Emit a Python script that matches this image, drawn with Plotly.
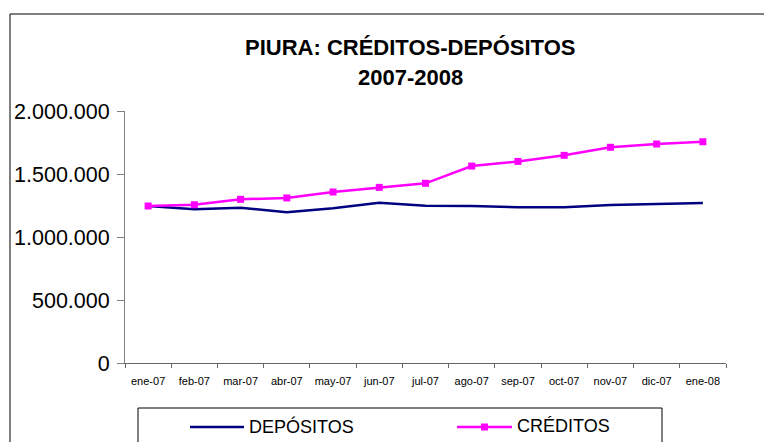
import plotly.graph_objects as go

meses = ["ene-07", "feb-07", "mar-07", "abr-07", "may-07", "jun-07", "jul-07",
         "ago-07", "sep-07", "oct-07", "nov-07", "dic-07", "ene-08"]
depositos = [1246000, 1220000, 1233000, 1196000, 1228000, 1272000, 1248000,
             1246000, 1236000, 1236000, 1254000, 1264000, 1270000]
creditos = [1246000, 1256000, 1299000, 1310000, 1357000, 1394000, 1426000,
            1563000, 1600000, 1648000, 1712000, 1738000, 1756000]
y_ticks = [0, 500000, 1000000, 1500000, 2000000]

FONT = "Liberation Sans, Arial, sans-serif"
AZUL = "#000080"
MAGENTA = "#FF00FF"

# page body adds an 8px margin, so the figure is sized to the remaining window
OFF = 8
FIG_W, FIG_H = 772 - OFF, 442 - OFF

# plot area in screen pixels (as measured on the reference)
L, R, T, B = 125, 726, 111, 363
W, H = R - L, B - T


def px(x):
    return (x - L) / W


def py(y):
    return (B - y) / H


fig = go.Figure()
fig.add_trace(go.Scatter(
    x=meses, y=depositos, name="DEPÓSITOS", mode="lines",
    line=dict(color=AZUL, width=2.5),
))
fig.add_trace(go.Scatter(
    x=meses, y=creditos, name="CRÉDITOS", mode="lines+markers",
    line=dict(color=MAGENTA, width=2.5),
    marker=dict(symbol="square", size=7, color=MAGENTA),
))

# title, two lines
for txt, yy in [("PIURA: CRÉDITOS-DEPÓSITOS", 33), ("2007-2008", 63)]:
    fig.add_annotation(text="<b>%s</b>" % txt, xref="paper", yref="paper",
                       x=px(410), y=py(yy), showarrow=False,
                       font=dict(size=22, color="black", family=FONT))

# outer chart border
fig.add_shape(type="rect", xref="paper", yref="paper",
              x0=px(10), x1=px(790), y0=py(470), y1=py(14),
              line=dict(color="black", width=1))

# legend drawn by hand (box runs past the bottom edge like the reference)
fig.add_shape(type="rect", xref="paper", yref="paper",
              x0=px(138), x1=px(662), y0=py(470), y1=py(408),
              line=dict(color="black", width=1))
fig.add_shape(type="line", xref="paper", yref="paper",
              x0=px(190), x1=px(244), y0=py(427), y1=py(427),
              line=dict(color=AZUL, width=2.5))
fig.add_shape(type="line", xref="paper", yref="paper",
              x0=px(457), x1=px(512), y0=py(427), y1=py(427),
              line=dict(color=MAGENTA, width=2.5))
fig.add_shape(type="rect", xref="paper", yref="paper",
              x0=px(481), x1=px(488), y0=py(430.5), y1=py(423.5),
              line=dict(width=0), fillcolor=MAGENTA)
for txt, xx in [("DEPÓSITOS", 247), ("CRÉDITOS", 515)]:
    fig.add_annotation(text=txt, xref="paper", yref="paper", x=px(xx), y=py(426),
                       xanchor="left", yanchor="middle", showarrow=False,
                       font=dict(size=18, color="black", family=FONT))

fig.update_layout(
    width=FIG_W, height=FIG_H,
    margin=dict(l=L - OFF, r=FIG_W - (R - OFF), t=T - OFF, b=FIG_H - (B - OFF),
                autoexpand=False),
    paper_bgcolor="white", plot_bgcolor="white",
    separators=",.",
    font=dict(family=FONT, color="black"),
    showlegend=False,
    xaxis=dict(type="category", range=[-0.5, 12.5], showgrid=False, showline=True,
               linecolor="#666666", linewidth=1, ticks="outside", ticklen=4,
               tickcolor="#666666", tickson="boundaries", tickangle=0,
               ticklabelstandoff=8, tickfont=dict(size=11), zeroline=False),
    yaxis=dict(range=[0, 2000000], tickvals=y_ticks,
               tickformat=",d", showgrid=False, showline=True, linecolor="#808080",
               linewidth=1, ticks="outside", ticklen=7, tickcolor="#808080",
               ticklabelstandoff=3, tickfont=dict(size=21.5), zeroline=False),
)

fig.write_html("out.html")
